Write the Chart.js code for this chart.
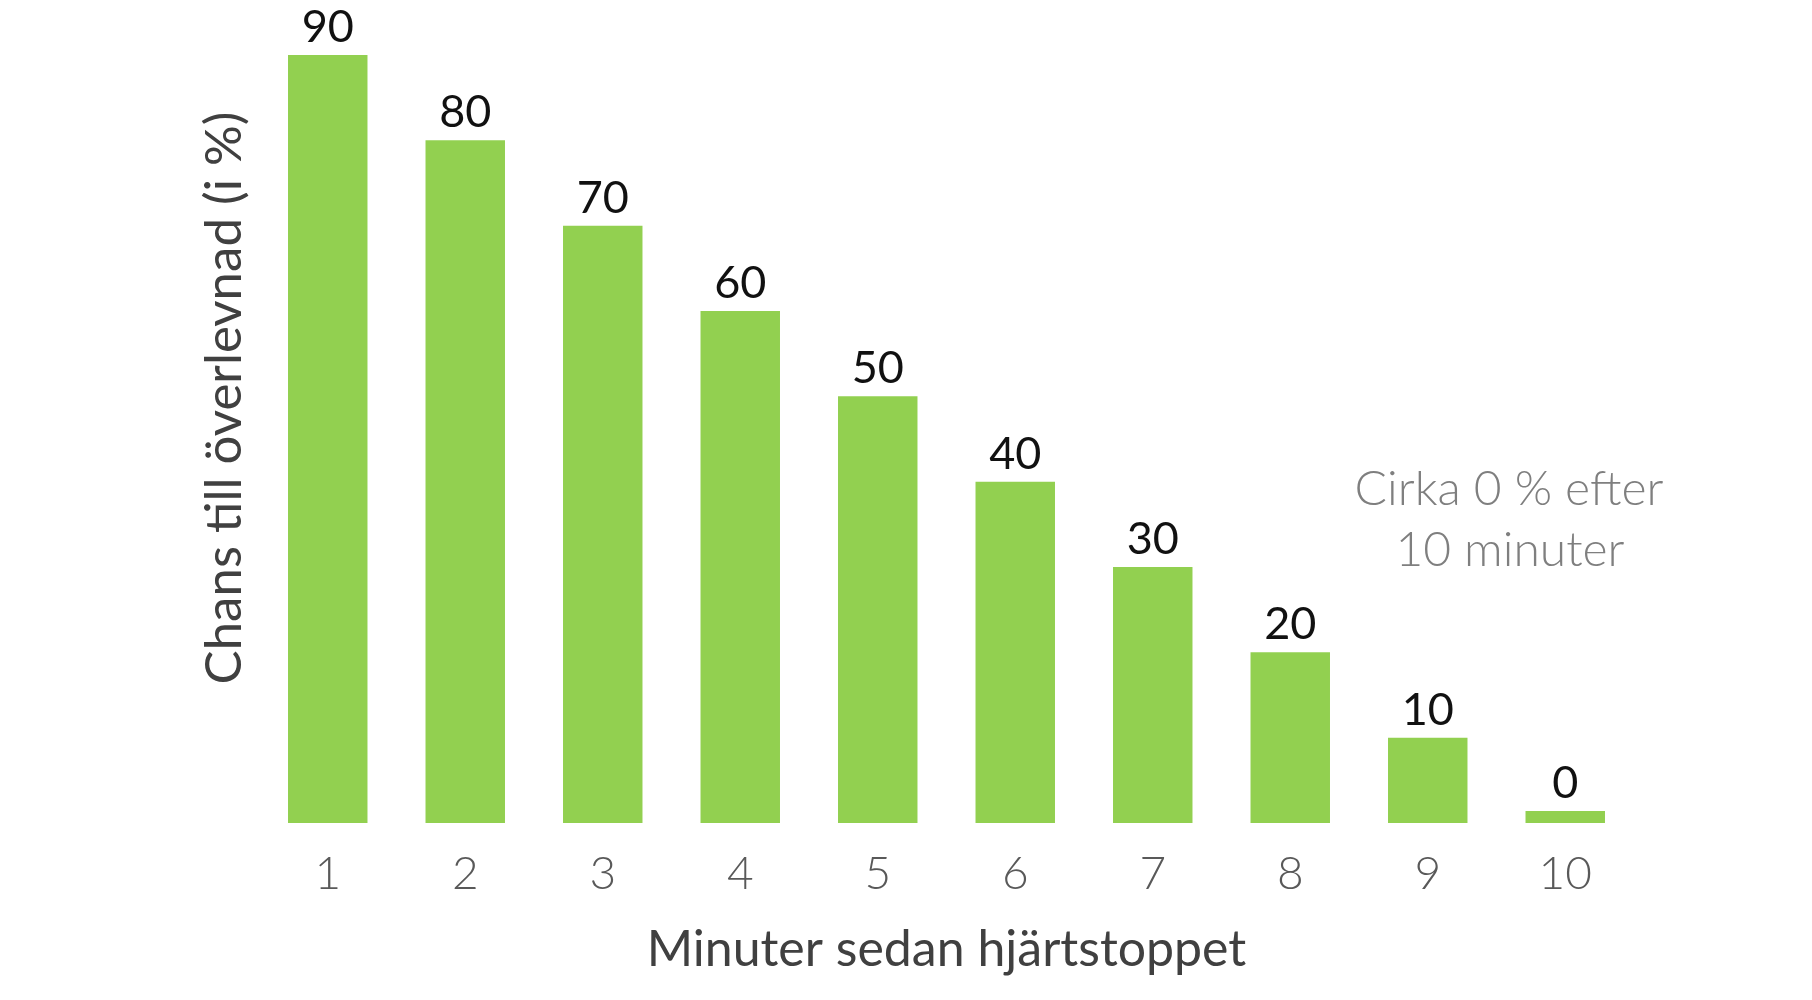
<!DOCTYPE html>
<html>
<head>
<meta charset="utf-8">
<script src="https://cdn.jsdelivr.net/npm/chart.js@4.4.1/dist/chart.umd.min.js"></script>
<style>
  html, body { margin: 0; padding: 0; background: #ffffff; }
  #wrap { width: 1812px; height: 1000px; position: relative; }
</style>
</head>
<body>
<div id="wrap"><canvas id="c" width="1812" height="1000"></canvas></div>
<script>
const categories = ['1', '2', '3', '4', '5', '6', '7', '8', '9', '10'];
const survival = [90, 80, 70, 60, 50, 40, 30, 20, 10, 0];
const xTitle = 'Minuter sedan hjärtstoppet';
const yTitle = 'Chans till överlevnad (i %)';
const noteLines = ['Cirka 0 % efter', '10 minuter'];

const FONT = 'Lato, "Source Sans Pro", "Noto Sans", sans-serif';

const valueLabels = {
  id: 'valueLabels',
  afterDatasetsDraw(chart) {
    const ctx = chart.ctx;
    const meta = chart.getDatasetMeta(0);
    ctx.save();
    ctx.font = '400 45px ' + FONT;
    ctx.fillStyle = '#111111';
    ctx.textAlign = 'center';
    ctx.textBaseline = 'alphabetic';
    meta.data.forEach((bar, i) => {
      const top = Math.min(bar.y, bar.base);
      ctx.fillText(String(survival[i]), bar.x, top - 13);
    });
    ctx.restore();
  }
};

const extraText = {
  id: 'extraText',
  afterDraw(chart) {
    const ctx = chart.ctx;
    ctx.save();
    // y axis title
    ctx.translate(225, 398);
    ctx.rotate(-Math.PI / 2);
    ctx.font = '400 51px ' + FONT;
    ctx.fillStyle = '#404040';
    ctx.textAlign = 'center';
    ctx.textBaseline = 'middle';
    ctx.fillText(yTitle, 0, 0);
    ctx.restore();

    ctx.save();
    ctx.font = '300 48px ' + FONT;
    ctx.fillStyle = '#7f7f7f';
    ctx.textAlign = 'center';
    ctx.textBaseline = 'middle';
    ctx.fillText(noteLines[0], 1509, 490);
    ctx.fillText(noteLines[1], 1510, 551);
    ctx.restore();
  }
};

new Chart(document.getElementById('c'), {
  type: 'bar',
  data: {
    labels: categories,
    datasets: [{
      data: survival,
      backgroundColor: '#92D050',
      borderWidth: 0,
      categoryPercentage: 1.0,
      barPercentage: 0.578,
      minBarLength: 12
    }]
  },
  options: {
    responsive: false,
    animation: false,
    devicePixelRatio: 1,
    layout: { padding: { left: 259, right: 178, top: 55, bottom: 20 } },
    plugins: {
      legend: { display: false },
      tooltip: { enabled: false },
      title: { display: false }
    },
    scales: {
      x: {
        afterFit(scale) { scale.height = 157; },
        grid: { display: false, drawTicks: false },
        border: { display: false },
        ticks: {
          color: '#595959',
          font: { family: FONT, size: 46, weight: '300' },
          padding: 24,
          maxRotation: 0
        },
        title: {
          display: true,
          text: xTitle,
          color: '#404040',
          font: { family: FONT, size: 50, weight: '400' },
          padding: { top: 13, bottom: 0 }
        }
      },
      y: {
        display: false,
        min: 0,
        max: 90
      }
    }
  },
  plugins: [valueLabels, extraText]
});
</script>
</body>
</html>
